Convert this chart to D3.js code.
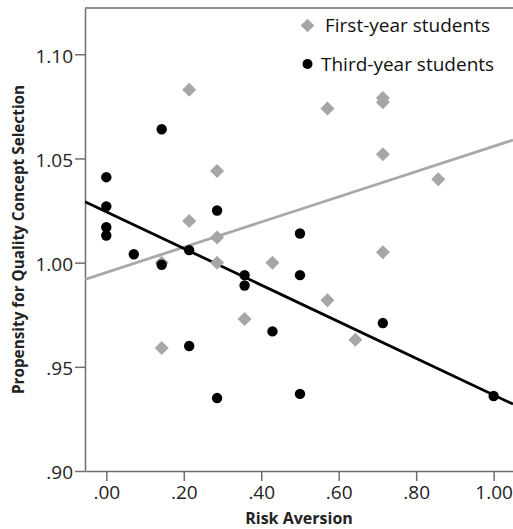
<!DOCTYPE html>
<html>
<head>
<meta charset="utf-8">
<script src="https://cdn.jsdelivr.net/npm/d3@7"></script>
<style>
body { margin: 0; background: white; }
text { font-family: "Open Sans", "Noto Sans", sans-serif; }
</style>
</head>
<body>
<div id="chart"></div>
<script>
// values

const first_x = [0.214, 0.286, 0.214, 0.286, 0.143, 0.286, 0.143, 0.357, 0.429,
                 0.571, 0.643, 0.714, 0.571, 0.714, 0.714, 0.714, 0.857];
const first_y = [1.083, 1.044, 1.020, 1.012, 1.000, 1.000, 0.959, 0.973, 1.000,
                 0.982, 0.963, 1.005, 1.074, 1.079, 1.077, 1.052, 1.040];

const third_x = [0, 0, 0, 0, 0.071, 0.143, 0.143, 0.214, 0.214, 0.286,
                 0.286, 0.357, 0.357, 0.429, 0.5, 0.5, 0.5, 0.714, 1.0];
const third_y = [1.041, 1.027, 1.017, 1.013, 1.004, 1.064, 0.999, 1.006, 0.960, 1.025,
                 0.935, 0.994, 0.989, 0.967, 1.014, 0.994, 0.937, 0.971, 0.936];

// fit lines (intercept, slope) for first-year / third-year
const fit_intercepts = [0.9953, 1.0244];
const fit_slopes = [0.0605, -0.0879];

const x_ticks = [0, 0.2, 0.4, 0.6, 0.8, 1.0];
const y_ticks = [0.90, 0.95, 1.00, 1.05, 1.10];
const legend_labels = ["First-year students", "Third-year students"];

// layout

width = 513;
height = 529;
const margin = {top: 8, right: 0, bottom: 58, left: 85};

svg = d3.select("#chart")
    .append("svg")
    .attr("width", width)
    .attr("height", height);

x = d3.scaleLinear()
    .domain([-0.055, 1.05])
    .range([margin.left, width - margin.right]);

y = d3.scaleLinear()
    .domain([0.9, 1.1222])
    .range([height - margin.bottom, margin.top]);

const fmt = v => d3.format(".2f")(v).replace(/^0\./, ".");

svg.append("clipPath").attr("id", "clip")
    .append("rect")
    .attr("x", margin.left)
    .attr("y", margin.top)
    .attr("width", width - margin.left - margin.right)
    .attr("height", height - margin.top - margin.bottom);

// frame top line
svg.append("line")
    .attr("x1", margin.left).attr("x2", width)
    .attr("y1", margin.top).attr("y2", margin.top)
    .attr("stroke", "#6e6e6e")
    .attr("stroke-width", 1.5);

// axes
var x_axis = svg.append("g")
    .attr("transform", `translate(0,${height - margin.bottom})`)
    .call(d3.axisBottom(x).tickValues(x_ticks).tickFormat(fmt)
          .tickSize(10).tickSizeOuter(0).tickPadding(5));

var y_axis = svg.append("g")
    .attr("transform", `translate(${margin.left},0)`)
    .call(d3.axisLeft(y).tickValues(y_ticks).tickFormat(fmt)
          .tickSize(10).tickSizeOuter(0).tickPadding(2));

[x_axis, y_axis].forEach(ax => {
    ax.select(".domain").attr("stroke", "#6e6e6e").attr("stroke-width", 1.5);
    ax.selectAll(".tick line").attr("stroke", "#6e6e6e").attr("stroke-width", 1.5);
    ax.selectAll(".tick text")
        .attr("fill", "#222")
        .style("font-size", "19px")
        .style("font-family", '"Open Sans", sans-serif');
});
y_axis.selectAll(".tick text").attr("dy", "0.42em");

// axis titles
svg.append("text")
    .attr("x", (margin.left + width - margin.right) / 2)
    .attr("y", 524)
    .attr("text-anchor", "middle")
    .style("font-size", "16px")
    .style("font-weight", "bold")
    .attr("fill", "#222")
    .text("Risk Aversion");

svg.append("text")
    .attr("transform", `translate(24,${(margin.top + height - margin.bottom) / 2}) rotate(-90)`)
    .attr("text-anchor", "middle")
    .style("font-size", "15.3px")
    .style("font-weight", "bold")
    .attr("fill", "#222")
    .text("Propensity for Quality Concept Selection");

// fit lines
var plot = svg.append("g").attr("clip-path", "url(#clip)");
const line_colors = ["#a8a8a8", "#000"];
fit_intercepts.forEach((b, i) => {
    const xs = x.domain();
    plot.append("line")
        .attr("x1", x(xs[0])).attr("y1", y(b + fit_slopes[i] * xs[0]))
        .attr("x2", x(xs[1])).attr("y2", y(b + fit_slopes[i] * xs[1]))
        .attr("stroke", line_colors[i])
        .attr("stroke-width", 2.8);
});

// markers
function diamond(cx, cy, r) {
    return `M${cx},${cy - r}L${cx + r},${cy}L${cx},${cy + r}L${cx - r},${cy}Z`;
}

plot.selectAll(".first")
    .data(first_x.map((v, i) => [v, first_y[i]]))
    .join("path")
    .attr("class", "first")
    .attr("d", d => diamond(x(d[0]), y(d[1]), 7))
    .attr("fill", "#a6a6a6");

plot.selectAll(".third")
    .data(third_x.map((v, i) => [v, third_y[i]]))
    .join("circle")
    .attr("class", "third")
    .attr("cx", d => x(d[0]))
    .attr("cy", d => y(d[1]))
    .attr("r", 5.2)
    .attr("fill", "#000");

// legend
var legend = svg.append("g");
legend.append("path")
    .attr("d", diamond(307.5, 25.5, 6.8))
    .attr("fill", "#a6a6a6");
legend.append("circle")
    .attr("cx", 307.5).attr("cy", 64)
    .attr("r", 5)
    .attr("fill", "#000");
legend.append("text")
    .attr("x", 325).attr("y", 31.5)
    .style("font-size", "19px")
    .attr("fill", "#111")
    .text(legend_labels[0]);
legend.append("text")
    .attr("x", 321).attr("y", 70.5)
    .style("font-size", "19px")
    .attr("fill", "#111")
    .text(legend_labels[1]);
</script>
</body>
</html>
